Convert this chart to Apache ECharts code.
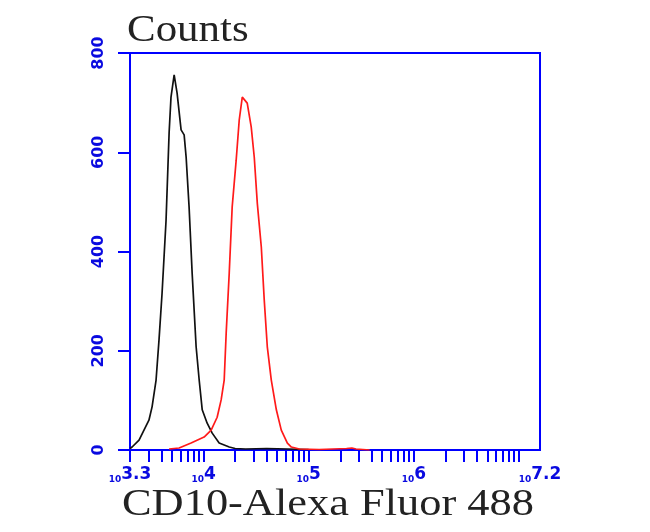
<!DOCTYPE html>
<html>
<head>
<meta charset="utf-8">
<script src="https://cdn.jsdelivr.net/npm/echarts@6/dist/echarts.min.js"></script>
<style>html,body{margin:0;padding:0;background:#fff}#c{width:650px;height:532px}</style>
</head>
<body>
<div id="c"></div>
<script>
// x values are log10(fluorescence intensity)
const xLabelExps = [3.3, 4, 5, 6, 7.2];
const yTicks = [0, 200, 400, 600, 800];

const blackExp = [3.30, 3.32, 3.386, 3.433, 3.48, 3.51, 3.548, 3.576, 3.605, 3.643, 3.672, 3.69, 3.72, 3.748, 3.786, 3.815, 3.834, 3.862, 3.891, 3.929, 3.958, 3.987, 4.034, 4.082, 4.148, 4.244, 4.30, 4.40, 4.60, 4.80, 5.00];
const blackCounts = [3, 6, 20, 40, 60, 87, 141, 222, 316, 463, 639, 711, 756, 719, 645, 635, 590, 490, 357, 208, 141, 81, 54, 34, 14, 6, 3, 2, 3, 2, 1];

const redExp = [3.672, 3.767, 3.881, 4.005, 4.072, 4.129, 4.167, 4.196, 4.215, 4.244, 4.272, 4.31, 4.339, 4.368, 4.387, 4.415, 4.453, 4.482, 4.511, 4.549, 4.577, 4.606, 4.644, 4.692, 4.739, 4.797, 4.835, 4.911, 5.10, 5.36, 5.41, 5.45, 5.58];
const redCounts = [2, 4, 14, 26, 40, 66, 101, 141, 236, 357, 490, 584, 665, 711, 715, 699, 651, 590, 497, 409, 302, 208, 141, 81, 40, 14, 6, 2, 1, 3, 4, 2, 0];

const xMin = 3.3, xMax = 7.2;
const minorTicks = [];
for (let d = 3; d <= 7; d++) {
  for (let k = 1; k <= 9; k++) {
    const v = Math.log10(k) + d;
    if (v >= xMin - 1e-9 && v <= xMax + 1e-9) minorTicks.push(v);
  }
}

const BLUE = '#0000ff';
const LBLUE = '#0a0ae0';

const chart = echarts.init(document.getElementById('c'), null, {renderer: 'canvas'});
chart.setOption({
  animation: false,
  backgroundColor: '#fff',
  grid: {left: 130, right: 110, top: 53, bottom: 82, show: true, borderColor: BLUE, borderWidth: 2, backgroundColor: 'transparent'},
  xAxis: {
    type: 'value', min: xMin, max: xMax,
    axisLine: {show: true, lineStyle: {color: BLUE, width: 2}},
    axisTick: {show: true, length: 12, inside: false, customValues: minorTicks, lineStyle: {color: BLUE, width: 2}},
    splitLine: {show: false},
    axisLabel: {
      customValues: xLabelExps,
      margin: 16,
      formatter: function (v) {
        const s = (Math.round(v * 10) / 10).toString();
        return '{b|10}{e|' + s + '}';
      },
      rich: {
        b: {fontSize: 9, fontWeight: 'bold', fontFamily: 'DejaVu Sans', color: LBLUE, lineHeight: 9, padding: [10, 0, 0, 0]},
        e: {fontSize: 17, fontWeight: 'bold', fontFamily: 'DejaVu Sans', color: LBLUE, lineHeight: 18, verticalAlign: 'top'}
      }
    }
  },
  yAxis: {
    type: 'value', min: 0, max: 800, interval: 200,
    axisLine: {show: true, lineStyle: {color: BLUE, width: 2}},
    axisTick: {show: true, length: 12, inside: false, lineStyle: {color: BLUE, width: 2}},
    splitLine: {show: false},
    axisLabel: {
      rotate: 90, margin: 23,
      fontSize: 16, fontWeight: 'bold', fontFamily: 'DejaVu Sans', color: LBLUE,
      formatter: function (v) { return yTicks.indexOf(v) >= 0 ? String(v) : ''; }
    }
  },
  graphic: [
    {type: 'text', x: 127, y: 31, scaleX: 1.16, style: {text: 'Counts', fontSize: 37, fontFamily: 'Liberation Serif', fill: '#222', verticalAlign: 'middle', align: 'left'}},
    {type: 'text', x: 122, y: 505, scaleX: 1.2, style: {text: 'CD10-Alexa Fluor 488', fontSize: 37, fontFamily: 'Liberation Serif', fill: '#222', verticalAlign: 'middle', align: 'left'}}
  ],
  series: [
    {type: 'line', name: 'control', data: blackExp.map((x, i) => [x, blackCounts[i]]), showSymbol: false, lineStyle: {color: '#111', width: 1.7}, z: 3},
    {type: 'line', name: 'CD10', data: redExp.map((x, i) => [x, redCounts[i]]), showSymbol: false, lineStyle: {color: '#ff1a1a', width: 1.7}, z: 4}
  ]
});
</script>
</body>
</html>
